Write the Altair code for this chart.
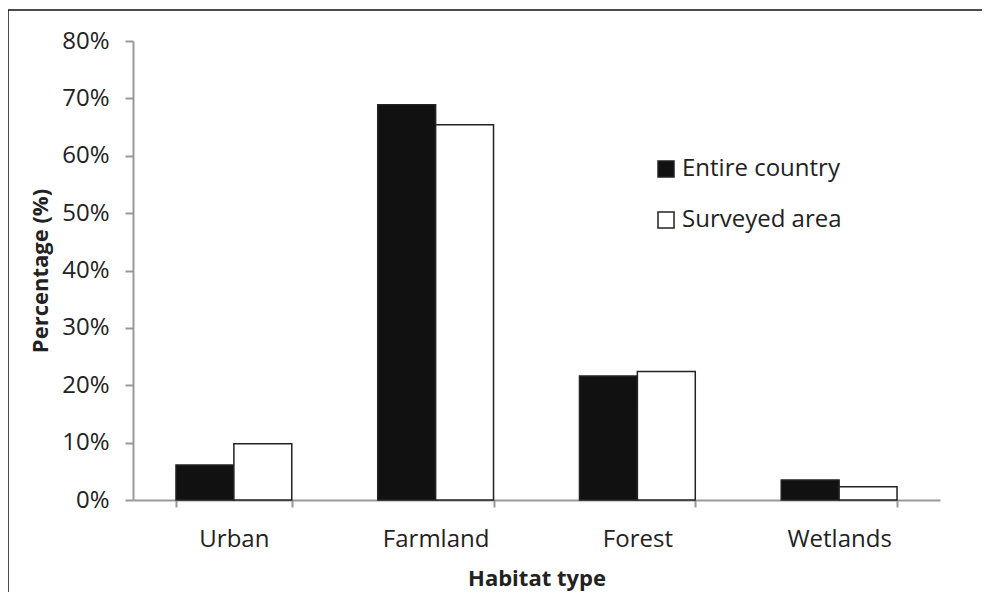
import altair as alt
import pandas as pd

categories = ["Urban", "Farmland", "Forest", "Wetlands"]
series = ["Entire country", "Surveyed area"]
entire_country = [6.1, 68.9, 21.6, 3.5]
surveyed_area = [9.8, 65.4, 22.4, 2.3]
y_ticks = [0, 10, 20, 30, 40, 50, 60, 70, 80]

rows = []
for c, a, b in zip(categories, entire_country, surveyed_area):
    rows.append({"Habitat": c, "Series": series[0], "Value": a})
    rows.append({"Habitat": c, "Series": series[1], "Value": b})
df = pd.DataFrame(rows)

FONT = "Open Sans"
W, H = 807, 459

bars = alt.Chart(df).mark_bar(stroke="#222222", strokeWidth=1.5).encode(
    x=alt.X(
        "Habitat:N",
        sort=categories,
        scale=alt.Scale(paddingInner=0.426, paddingOuter=0.213),
        axis=alt.Axis(
            title="Habitat type",
            labelAngle=0,
            tickBand="extent",
            tickSize=7,
            labelPadding=20,
            titleX=W / 2,
            titleY=78,
            titleBaseline="middle",
        ),
    ),
    xOffset=alt.XOffset(
        "Series:N", sort=series, scale=alt.Scale(paddingInner=0, paddingOuter=0)
    ),
    y=alt.Y(
        "Value:Q",
        scale=alt.Scale(domain=[0, 80], nice=False),
        axis=alt.Axis(
            title="Percentage (%)",
            values=y_ticks,
            labelExpr="datum.value + '%'",
            tickSize=8,
            labelPadding=16,
            grid=False,
            titleX=-93,
            titleY=H / 2,
            titleBaseline="middle",
            titleAngle=-90,
        ),
    ),
    fill=alt.Fill(
        "Series:N",
        sort=series,
        scale=alt.Scale(domain=series, range=["#111111", "#ffffff"]),
        legend=alt.Legend(
            title=None,
            orient="none",
            legendX=521,
            legendY=116,
            direction="vertical",
            symbolType="square",
            symbolSize=256,
            symbolStrokeColor="#222222",
            symbolStrokeWidth=1.5,
            labelFontSize=24,
            labelFont=FONT,
            labelColor="#222222",
            labelOffset=4,
            rowPadding=27,
        ),
    ),
)

one = pd.DataFrame({"a": [0]})
top_line = alt.Chart(one).mark_rule(stroke="#111111", strokeWidth=1.5).encode(
    x=alt.value(-125), x2=alt.value(W + 42), y=alt.value(-31)
)
left_line = alt.Chart(one).mark_rule(stroke="#111111", strokeWidth=1.5).encode(
    x=alt.value(-125), y=alt.value(-31), y2=alt.value(H + 92)
)

chart = (
    alt.layer(top_line, left_line, bars)
    .properties(
        width=W,
        height=H,
        autosize=alt.AutoSizeParams(type="none"),
        padding={"left": 125, "top": 33, "right": 42, "bottom": 92},
        background="#ffffff",
    )
    .configure_view(strokeWidth=0)
    .configure_axis(
        labelFont=FONT,
        titleFont=FONT,
        labelFontSize=24,
        titleFontSize=22,
        titleFontWeight="bold",
        labelColor="#222222",
        titleColor="#222222",
        domainColor="#999999",
        tickColor="#999999",
        domainWidth=2,
        tickWidth=2,
    )
)

chart.save("out.html", embed_options={"renderer": "svg", "actions": False})
